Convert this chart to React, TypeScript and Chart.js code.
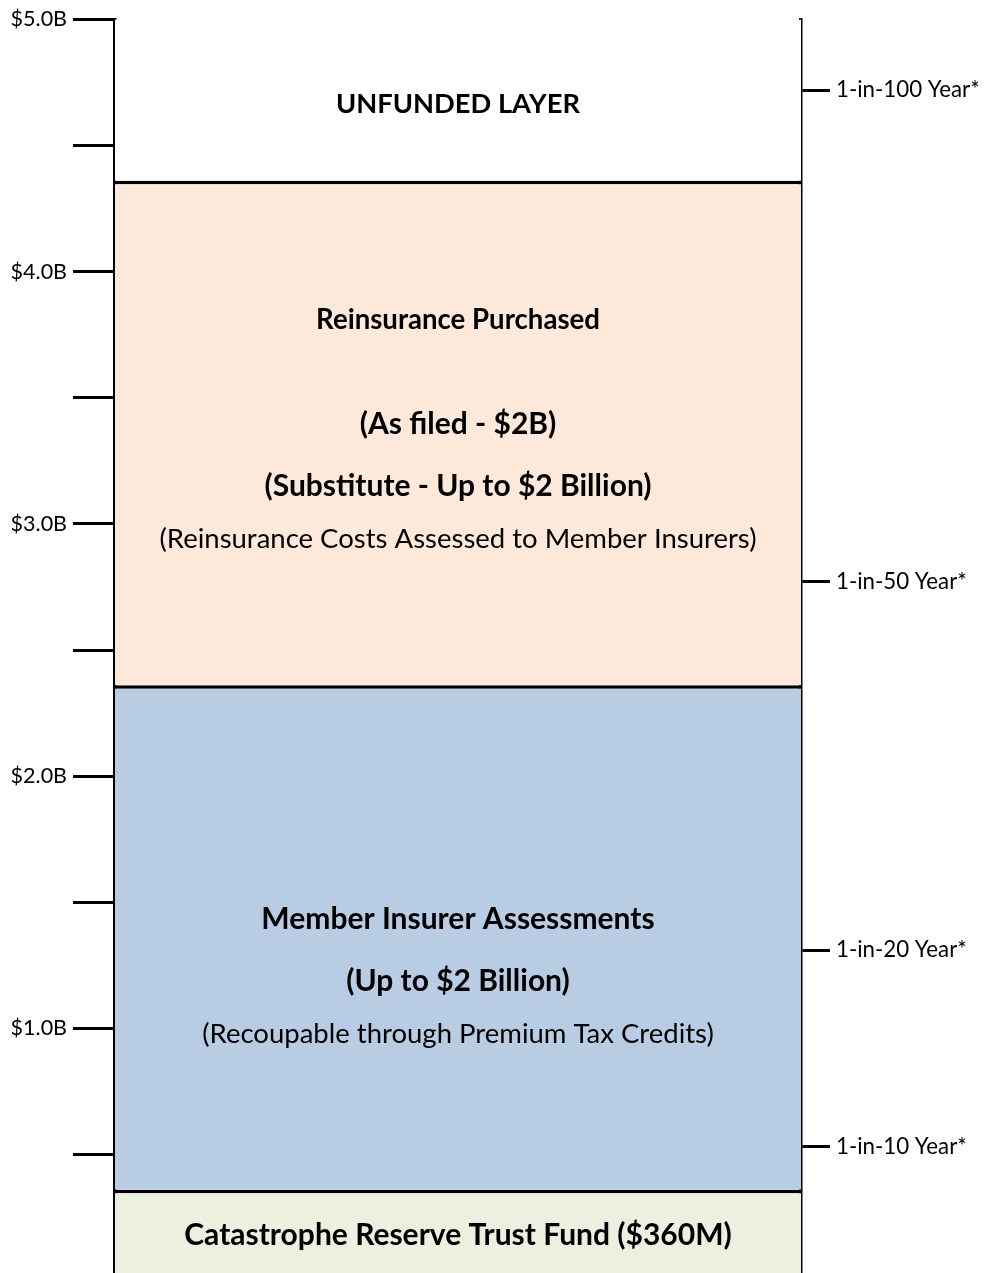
import { useEffect, useRef } from "react";
import { Chart, registerables } from "chart.js";

Chart.register(...registerables);

// ---------- DATA ----------
const categories = ["Funding Layers"];
const layerNames = [
  "Catastrophe Reserve Trust Fund",
  "Member Insurer Assessments",
  "Reinsurance Purchased",
  "Unfunded Layer",
];
const layerValues = [0.36, 2.0, 2.0, 0.64]; // $ billions, stacked from 0 to 5.0
const layerColors = ["#EBF1DE", "#B8CCE4", "#FDE9D9", "#FFFFFF"];

const axisMin = 0;
const axisMax = 5;
const axisStep = 0.5;

const returnPeriodValues = [0.53, 1.31, 2.77, 4.72];
const returnPeriodLabels = ["1-in-10 Year*", "1-in-20 Year*", "1-in-50 Year*", "1-in-100 Year*"];

// text lines per layer: [style, text]
const crtfLines: [string, string][] = [["head", "Catastrophe Reserve Trust Fund ($360M)"]];
const memberLines: [string, string][] = [
  ["gapL", ""],
  ["big", "Member Insurer Assessments"],
  ["big", "(Up to $2 Billion)"],
  ["note", "(Recoupable through Premium Tax Credits)"],
];
const reinsuranceLines: [string, string][] = [
  ["sub", "Reinsurance Purchased"],
  ["gap", ""],
  ["big", "(As filed - $2B)"],
  ["big", "(Substitute - Up to $2 Billion)"],
  ["note", "(Reinsurance Costs Assessed to Member Insurers)"],
  ["tail", ""],
];
const unfundedLines: [string, string][] = [
  ["pad", ""],
  ["caps", "UNFUNDED LAYER"],
];
const layerLines = [crtfLines, memberLines, reinsuranceLines, unfundedLines];

// ---------- STYLES ----------
const FONT = "Lato, 'Open Sans', sans-serif";
const TEXT_STYLES: Record<string, { weight: string; size: number; slot: number }> = {
  head: { weight: "bold", size: 30, slot: 40 },
  caps: { weight: "bold", size: 27.3, slot: 40 },
  sub: { weight: "bold", size: 27.6, slot: 40 },
  big: { weight: "bold", size: 30, slot: 62 },
  note: { weight: "normal", size: 27.5, slot: 44 },
  gap: { weight: "normal", size: 10, slot: 53 },
  gapL: { weight: "normal", size: 10, slot: 70 },
  tail: { weight: "normal", size: 10, slot: 4 },
  pad: { weight: "normal", size: 10, slot: 8 },
};

const layerTextPlugin = {
  id: "layerText",
  afterDatasetsDraw(chart: any) {
    const ctx = chart.ctx;
    chart.data.datasets.forEach((_ds: any, i: number) => {
      const meta = chart.getDatasetMeta(i);
      const bar = meta.data[0];
      if (!bar) return;
      const { x, y, base } = bar.getProps(["x", "y", "base"], true);
      const top = Math.min(y, base);
      const bottom = Math.max(y, base);
      const lines = layerLines[i] || [];
      const total = lines.reduce((s, l) => s + TEXT_STYLES[l[0]].slot, 0);
      let cy = (top + bottom) / 2 - total / 2;
      ctx.save();
      ctx.textAlign = "center";
      ctx.textBaseline = "middle";
      ctx.fillStyle = "#000";
      for (const [style, text] of lines) {
        const st = TEXT_STYLES[style];
        if (text) {
          ctx.font = `${st.weight} ${st.size}px ${FONT}`;
          ctx.fillText(text, x, cy + st.slot / 2);
        }
        cy += st.slot;
      }
      ctx.restore();
    });
  },
};

export default function App() {
  const canvasRef = useRef<HTMLCanvasElement | null>(null);

  useEffect(() => {
    if (!canvasRef.current) return;
    const chart = new Chart(canvasRef.current, {
      type: "bar",
      data: {
        labels: categories,
        datasets: layerValues.map((v, i) => ({
          label: layerNames[i],
          data: [v],
          backgroundColor: layerColors[i],
          borderColor: "#000",
          borderWidth: i === layerValues.length - 1 ? 0 : { top: 3.5, right: 0, bottom: 0, left: 0 },
          borderSkipped: "start" as const,
          inflateAmount: 0,
          categoryPercentage: 1,
          barPercentage: 1,
          yAxisID: "y",
        })),
      },
      options: {
        responsive: false,
        animation: false,
        layout: { padding: { top: 19, bottom: 14, left: 0, right: 0 } },
        plugins: { legend: { display: false }, tooltip: { enabled: false } },
        scales: {
          x: { display: false, stacked: true },
          y: {
            stacked: true,
            position: "left",
            min: axisMin,
            max: axisMax,
            z: 1,
            ticks: {
              stepSize: axisStep,
              autoSkip: false,
              padding: 6,
              color: "#000",
              font: { family: FONT, size: 21.5 },
              callback: (v: any) => (Number.isInteger(v) && v > 0 ? `$${Number(v).toFixed(1)}B` : ""),
            },
            grid: {
              drawOnChartArea: false,
              drawTicks: true,
              tickLength: 42,
              tickWidth: 3,
              tickColor: "#000",
            },
            border: { display: true, color: "#000", width: 3.5 },
            afterFit: (s: any) => {
              s.width = 115;
            },
          },
          y2: {
            position: "right",
            min: axisMin,
            max: axisMax,
            z: 1,
            afterBuildTicks: (s: any) => {
              s.ticks = returnPeriodValues.map((v) => ({ value: v }));
            },
            ticks: {
              autoSkip: false,
              padding: 6,
              color: "#000",
              font: { family: FONT, size: 22.3 },
              callback: (_v: any, idx: number) => returnPeriodLabels[idx],
            },
            grid: {
              drawOnChartArea: false,
              drawTicks: true,
              tickLength: 29,
              tickWidth: 3,
              tickColor: "#000",
            },
            border: { display: true, color: "#000", width: 3.5 },
            afterFit: (s: any) => {
              s.width = 183;
            },
          },
        },
      } as any,
      plugins: [layerTextPlugin],
    });
    return () => chart.destroy();
  }, []);

  return (
    <div
      style={{
        position: "fixed",
        top: 0,
        left: 0,
        width: 984,
        height: 1273,
        overflow: "hidden",
        background: "#fff",
      }}
    >
      <canvas ref={canvasRef} width={984} height={1300} style={{ display: "block" }} />
    </div>
  );
}
